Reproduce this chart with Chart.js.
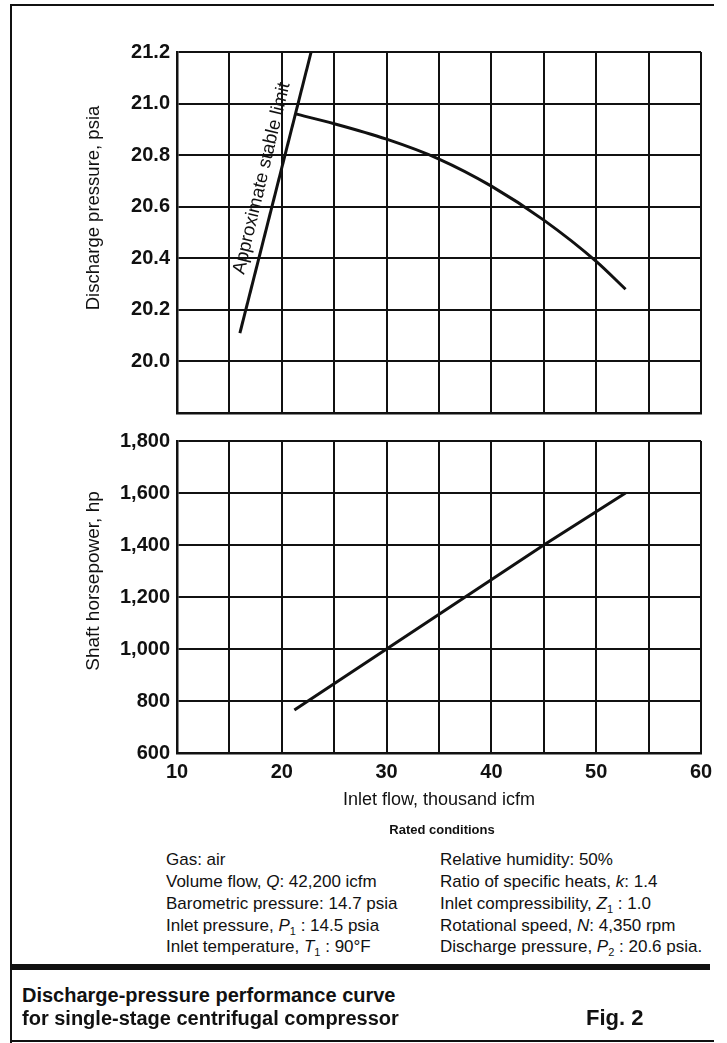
<!DOCTYPE html>
<html>
<head>
<meta charset="utf-8">
<script src="https://cdn.jsdelivr.net/npm/chart.js@4.4.1/dist/chart.umd.min.js"></script>
<style>
  body { margin: 0; background: #fff; }
  #page { position: relative; width: 727px; height: 1043px; overflow: hidden; font-family: "Liberation Sans", Arial, sans-serif; color: #111; }
  canvas { position: absolute; left: 0; }
  #pressureChart { top: 0; }
  #powerChart { top: 420px; }
  .line { position: absolute; background: #111; }
  .ytitle { position: absolute; white-space: nowrap; transform: translate(-50%, -50%) rotate(-90deg); }
  .txt { position: absolute; white-space: nowrap; font-size: 17px; line-height: 18px; }
  .txt sub { font-size: 11px; }
  .heading { font-weight: bold; font-size: 13px; }
  .caption { position: absolute; left: 22px; font-size: 20px; font-weight: bold; line-height: 23px; white-space: nowrap; }
</style>
</head>
<body>
<div id="page">
  <canvas id="pressureChart" width="727" height="432"></canvas>
  <canvas id="powerChart" width="727" height="400"></canvas>

  <div class="ytitle" style="left:93px; top:208px; font-size:18.5px;">Discharge pressure, psia</div>
  <div class="ytitle" style="left:93px; top:581px; font-size:19px;">Shaft horsepower, hp</div>

  <div class="line" style="left:10px; top:4px; width:704px; height:2px;"></div>
  <div class="line" style="left:10px; top:4px; width:2px; height:1039px;"></div>
  <div class="line" style="left:10px; top:1040px; width:704px; height:2px;"></div>

  <div class="txt heading" style="left:0; width:884px; text-align:center; top:821px;">Rated conditions</div>

  <div class="txt" style="left:166px; top:851px;">Gas: air</div>
  <div class="txt" style="left:166px; top:873px;">Volume flow, <i>Q</i>: 42,200 icfm</div>
  <div class="txt" style="left:166px; top:895px;">Barometric pressure: 14.7 psia</div>
  <div class="txt" style="left:166px; top:917px;">Inlet pressure, <i>P</i><sub>1</sub> : 14.5 psia</div>
  <div class="txt" style="left:166px; top:938px;">Inlet temperature, <i>T</i><sub>1</sub> : 90°F</div>

  <div class="txt" style="left:440px; top:851px;">Relative humidity: 50%</div>
  <div class="txt" style="left:440px; top:873px;">Ratio of specific heats, <i>k</i>: 1.4</div>
  <div class="txt" style="left:440px; top:895px;">Inlet compressibility, <i>Z</i><sub>1</sub> : 1.0</div>
  <div class="txt" style="left:440px; top:917px;">Rotational speed, <i>N</i>: 4,350 rpm</div>
  <div class="txt" style="left:440px; top:938px;">Discharge pressure, <i>P</i><sub>2</sub> : 20.6 psia.</div>

  <div class="line" style="left:12px; top:964px; width:698px; height:6px;"></div>

  <div class="caption" style="top:984px;">Discharge-pressure performance curve</div>
  <div class="caption" style="top:1007px;">for single-stage centrifugal compressor</div>
  <div class="caption" style="top:1006px; left:586px; font-size:22px;">Fig. 2</div>
</div>

<script>
// grid / tick values
const flowGrid = [10, 15, 20, 25, 30, 35, 40, 45, 50, 55, 60];
const flowLabels = ["10", "", "20", "", "30", "", "40", "", "50", "", "60"];
const pressureGrid = [19.8, 20.0, 20.2, 20.4, 20.6, 20.8, 21.0, 21.2];
const pressureLabels = ["", "20.0", "20.2", "20.4", "20.6", "20.8", "21.0", "21.2"];
const powerGrid = [600, 800, 1000, 1200, 1400, 1600, 1800];
const powerLabels = ["600", "800", "1,000", "1,200", "1,400", "1,600", "1,800"];

// approximate stable limit line
const stableFlow = [16.0, 22.8];
const stablePressure = [20.11, 21.2];

// discharge pressure curve
const curveFlow = [21.3, 25, 30, 35, 40, 45, 50, 52.8];
const curvePressure = [20.96, 20.922, 20.862, 20.785, 20.68, 20.548, 20.388, 20.28];

// shaft horsepower
const powerFlow = [21.2, 30, 37.5, 45, 52.8];
const powerHp = [765, 1000, 1200, 1400, 1600];

// centre of the "Approximate stable limit" text
const labelFlow = 18.1;
const labelPressure = 20.71;

const ink = "#111";
const fontFamily = '"Liberation Sans", Arial, sans-serif';

const toPoints = (xs, ys) => xs.map((x, i) => ({ x: x, y: ys[i] }));

const stableLabel = {
    id: "stableLabel",
    afterDatasetsDraw(chart) {
        const { ctx, scales: { x, y } } = chart;
        ctx.save();
        ctx.translate(x.getPixelForValue(labelFlow), y.getPixelForValue(labelPressure));
        ctx.rotate(-76.5 * Math.PI / 180);
        ctx.font = "18.5px " + fontFamily;
        ctx.fillStyle = ink;
        ctx.textAlign = "center";
        ctx.textBaseline = "middle";
        ctx.fillText("Approximate stable limit", 0, 0);
        ctx.restore();
    }
};

const xAxis = (showLabels) => ({
    type: "linear",
    min: 10,
    max: 60,
    afterBuildTicks: (s) => { s.ticks = flowGrid.map(v => ({ value: v })); },
    afterFit: showLabels ? (s) => { s.height = 62; } : (s) => { s.height = 0; },
    grid: { color: ink, lineWidth: 2, drawTicks: false },
    border: { display: true, color: ink, width: 2.5 },
    ticks: {
        display: showLabels,
        autoSkip: false,
        maxRotation: 0,
        padding: 7,
        color: ink,
        font: { family: fontFamily, size: 20, weight: "bold" },
        callback: (v, i) => flowLabels[i]
    },
    title: {
        display: showLabels,
        text: "Inlet flow, thousand icfm",
        color: ink,
        font: { family: fontFamily, size: 18 }
    }
});

const yAxis = (grid, labels, min, max) => ({
    type: "linear",
    min: min,
    max: max,
    afterBuildTicks: (s) => { s.ticks = grid.map(v => ({ value: v })); },
    afterFit: (s) => { s.width = 98; },
    grid: { color: ink, lineWidth: 2, drawTicks: false },
    border: { display: true, color: ink, width: 2.5 },
    ticks: {
        autoSkip: false,
        padding: 7,
        color: ink,
        font: { family: fontFamily, size: 20, weight: "bold" },
        callback: (v, i) => labels[i]
    }
});

const lineStyle = {
    borderColor: ink,
    borderWidth: 3,
    pointRadius: 0,
    fill: false
};

new Chart(document.getElementById("pressureChart"), {
    type: "line",
    data: {
        datasets: [
            Object.assign({ data: toPoints(stableFlow, stablePressure), tension: 0 }, lineStyle),
            Object.assign({ data: toPoints(curveFlow, curvePressure), cubicInterpolationMode: "monotone" }, lineStyle)
        ]
    },
    options: {
        responsive: false,
        animation: false,
        layout: { padding: { left: 79, right: 26, top: 52, bottom: 19 } },
        plugins: { legend: { display: false }, tooltip: { enabled: false } },
        scales: {
            x: xAxis(false),
            y: yAxis(pressureGrid, pressureLabels, 19.8, 21.2)
        }
    },
    plugins: [stableLabel]
});

new Chart(document.getElementById("powerChart"), {
    type: "line",
    data: {
        datasets: [
            Object.assign({ data: toPoints(powerFlow, powerHp), tension: 0 }, lineStyle)
        ]
    },
    options: {
        responsive: false,
        animation: false,
        layout: { padding: { left: 79, right: 26, top: 21, bottom: 5 } },
        plugins: { legend: { display: false }, tooltip: { enabled: false } },
        scales: {
            x: xAxis(true),
            y: yAxis(powerGrid, powerLabels, 600, 1800)
        }
    }
});
</script>
</body>
</html>
